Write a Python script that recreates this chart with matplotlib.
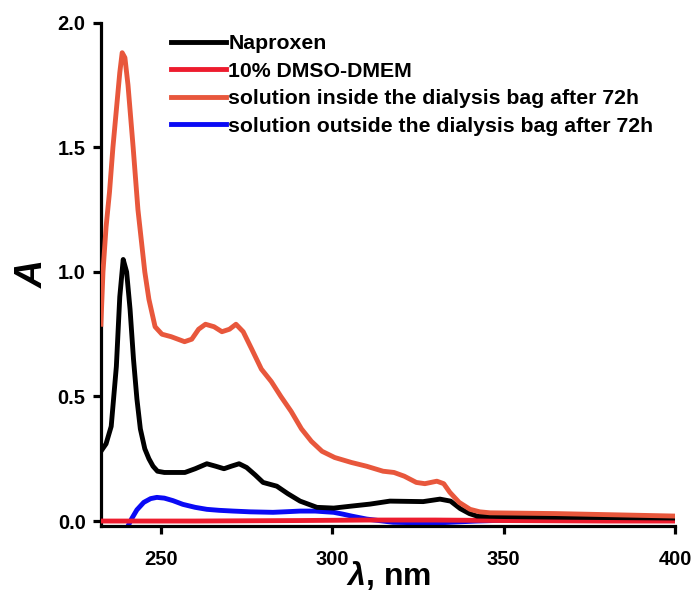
import matplotlib
matplotlib.use('Agg')
import matplotlib.pyplot as plt

plt.rcParams['font.family'] = ['Liberation Sans', 'DejaVu Sans']
plt.rcParams['font.weight'] = 'bold'
plt.rcParams['mathtext.fontset'] = 'custom'
plt.rcParams['mathtext.it'] = 'Liberation Sans:italic:bold'
plt.rcParams['mathtext.rm'] = 'Liberation Sans:bold'

# wavelength (nm) / absorbance
nap_x = [232.5, 234, 235.5, 237, 238, 239, 240, 241, 242, 243, 244, 245.3, 246.5, 247.7, 249,
         251, 254, 257, 260, 263.4, 266, 268.4, 270.5, 272.8, 275, 277.5, 279.8, 283.8, 287,
         290.6, 295.5, 300.4, 305.6, 311, 316.8, 326.5, 331.4, 334.5, 337.3, 340, 342.2, 350,
         370, 400]
nap_y = [0.28, 0.31, 0.38, 0.62, 0.90, 1.05, 1.00, 0.85, 0.65, 0.49, 0.37, 0.29, 0.25, 0.22, 0.20,
         0.195, 0.195, 0.195, 0.21, 0.23, 0.22, 0.21, 0.22, 0.23, 0.215, 0.185, 0.155, 0.14, 0.11,
         0.08, 0.055, 0.052, 0.06, 0.068, 0.08, 0.078, 0.088, 0.08, 0.05, 0.03, 0.02, 0.018,
         0.015, 0.012]

dmso_x = [232.5, 260, 290, 310, 330, 350, 380, 400]
dmso_y = [0.0, 0.0, 0.002, 0.004, 0.004, 0.002, 0.0, 0.0]

ins_x = [232.5, 233.1, 234, 235, 236, 237, 238, 238.7, 239.5, 240.4, 241.9, 243.3, 245.3, 246.5,
         248.3, 250.3, 253, 256.9, 259, 261, 263, 265.5, 267.8, 270, 271.9, 274, 276.5, 279.3,
         282.2, 285, 288, 291, 293.9, 297, 300.7, 305.6, 310, 314.8, 318, 321, 324.5, 327,
         330.5, 332.5, 334.3, 337, 340.2, 343, 346, 365, 400]
ins_y = [0.79, 1.0, 1.18, 1.32, 1.5, 1.65, 1.80, 1.88, 1.86, 1.75, 1.5, 1.25, 1.0, 0.89,
         0.78, 0.75, 0.74, 0.72, 0.73, 0.77, 0.79, 0.78, 0.76, 0.77, 0.79, 0.76, 0.69, 0.61,
         0.56, 0.50, 0.44, 0.37, 0.32, 0.28, 0.255, 0.235, 0.22, 0.2, 0.195, 0.18, 0.155, 0.15,
         0.16, 0.15, 0.115, 0.075, 0.047, 0.037, 0.033, 0.03, 0.02]

out_x = [240.4, 241.5, 243, 245, 247, 248.8, 251, 253.5, 256.4, 260, 263.4, 267, 271.1, 276,
         282.7, 286, 290.6, 295, 300.4, 303, 305.6, 310, 317.7, 325, 333, 342, 352, 362.6, 380, 400]
out_y = [-0.02, 0.01, 0.045, 0.075, 0.09, 0.095, 0.092, 0.082, 0.067, 0.055, 0.047, 0.043, 0.04, 0.037,
         0.035, 0.037, 0.04, 0.04, 0.035, 0.028, 0.02, 0.008, -0.005, -0.007, -0.006, 0.0, 0.004, 0.006,
         0.004, 0.003]

fig = plt.figure(figsize=(6.96, 6.07), dpi=100)
ax = fig.add_axes([0.145, 0.1334, 0.825, 0.829])

lw = 3.5
ax.plot(nap_x, nap_y, color='black', lw=lw, label='Naproxen', zorder=4)
ax.plot(dmso_x, dmso_y, color='#ed1c2e', lw=lw, label='10% DMSO-DMEM', zorder=3)
ax.plot(ins_x, ins_y, color='#e8573c', lw=lw, label='solution inside the dialysis bag after 72h', zorder=5)
ax.plot(out_x, out_y, color='#0a0af5', lw=lw, label='solution outside the dialysis bag after 72h', zorder=2)

ax.set_xlim(232.5, 400)
ax.set_ylim(-0.02, 2.0)
ax.set_xticks([250, 300, 350, 400])
ax.set_yticks([0.0, 0.5, 1.0, 1.5, 2.0])
ax.set_yticklabels(['0.0', '0.5', '1.0', '1.5', '2.0'])

for s in ['top', 'right']:
    ax.spines[s].set_visible(False)
for s in ['left', 'bottom']:
    ax.spines[s].set_linewidth(2.3)
ax.tick_params(direction='out', length=6, width=2.3, labelsize=14.5)
ax.tick_params(axis='x', pad=11)
ax.tick_params(axis='y', pad=5)
for t in ax.get_xticklabels() + ax.get_yticklabels():
    t.set_fontweight('bold')

ax.set_xlabel(r'$\it{\lambda}$, nm', fontsize=23, fontweight='bold', labelpad=-7)
ax.set_ylabel('A', fontsize=28, fontweight='bold', style='italic', labelpad=5)

leg = ax.legend(loc='upper left', bbox_to_anchor=(0.122, 0.977), frameon=False, fontsize=15.3,
                handlelength=2.6, handletextpad=0.1, labelspacing=0.4, borderaxespad=0,
                borderpad=0)
for t in leg.get_texts():
    t.set_fontweight('bold')

fig.savefig('out.png', dpi=100)
